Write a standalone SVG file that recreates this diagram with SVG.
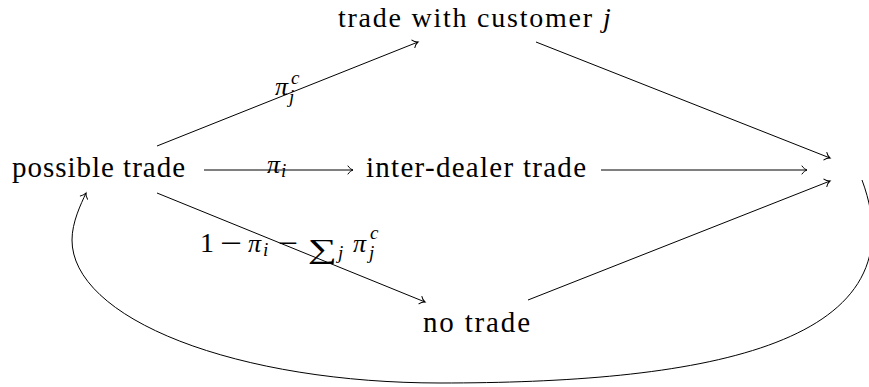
<svg xmlns="http://www.w3.org/2000/svg" width="869" height="387" viewBox="0 0 869 387">
<style>
.t{font-family:'Liberation Serif','Times New Roman',serif;fill:#000}
.mi{font-family:'Liberation Serif','Times New Roman',serif;font-style:italic;fill:#000}
.e{fill:none;stroke:#000;stroke-width:1}
</style>
<defs>
<marker id="ah" markerUnits="userSpaceOnUse" orient="auto" refX="0" refY="0" markerWidth="10" markerHeight="10" overflow="visible">
<path d="M -5,-4 C -3.5,-1.6 -1.2,-0.4 0,0 C -1.2,0.4 -3.5,1.6 -5,4" fill="none" stroke="#000" stroke-width="1" stroke-linecap="round"/>
</marker>
</defs>
<rect width="869" height="387" fill="#fff"/>
<g id="connectors">
<line class="e" x1="157" y1="146" x2="418" y2="42" marker-end="url(#ah)"/>
<line class="e" x1="536" y1="42" x2="830" y2="158" marker-end="url(#ah)"/>
<line class="e" x1="204" y1="170" x2="353" y2="170" marker-end="url(#ah)"/>
<line class="e" x1="601" y1="170" x2="807" y2="170" marker-end="url(#ah)"/>
<line class="e" x1="157" y1="193" x2="425" y2="302" marker-end="url(#ah)"/>
<line class="e" x1="528" y1="300" x2="830" y2="181" marker-end="url(#ah)"/>
<path class="e" d="M 862,180 C 925,350 690,383 440,383 A 368 143 0 0 1 72,240 C 72,222 81,204 86,193" marker-end="url(#ah)"/>
</g>
<g id="labels">
<text class="mi" x="275" y="95" font-size="26">π</text>
<text class="mi" x="291" y="84" font-size="19">c</text>
<text class="mi" x="289" y="103" font-size="19">j</text>
<text class="mi" x="267" y="173" font-size="26">π</text>
<text class="mi" x="281" y="177" font-size="19">i</text>
<text class="t" x="200" y="252" font-size="28">1</text>
<text class="t" x="220" y="252" font-size="27" textLength="22" lengthAdjust="spacingAndGlyphs">−</text>
<text class="mi" x="248" y="252" font-size="26">π</text>
<text class="mi" x="263" y="256" font-size="19">i</text>
<text class="t" x="278" y="252" font-size="27" textLength="20" lengthAdjust="spacingAndGlyphs">−</text>
<text class="t" x="308" y="258" font-size="27" textLength="29" lengthAdjust="spacingAndGlyphs">∑</text>
<text class="mi" x="338" y="259" font-size="19">j</text>
<text class="mi" x="353" y="252" font-size="26">π</text>
<text class="mi" x="370" y="239" font-size="19">c</text>
<text class="mi" x="369" y="259" font-size="19">j</text>
</g>
<g id="customer">
<text class="t" x="338" y="27" font-size="28" textLength="254">trade with customer</text>
<text class="mi" x="603" y="27" font-size="28">j</text>
</g>
<g id="possible">
<text class="t" x="12" y="177" font-size="29" textLength="173">possible trade</text>
</g>
<g id="inter">
<text class="t" x="366" y="177" font-size="29" textLength="220">inter-dealer trade</text>
</g>
<g id="notrade">
<text class="t" x="423" y="332" font-size="29" textLength="107">no trade</text>
</g>
</svg>
